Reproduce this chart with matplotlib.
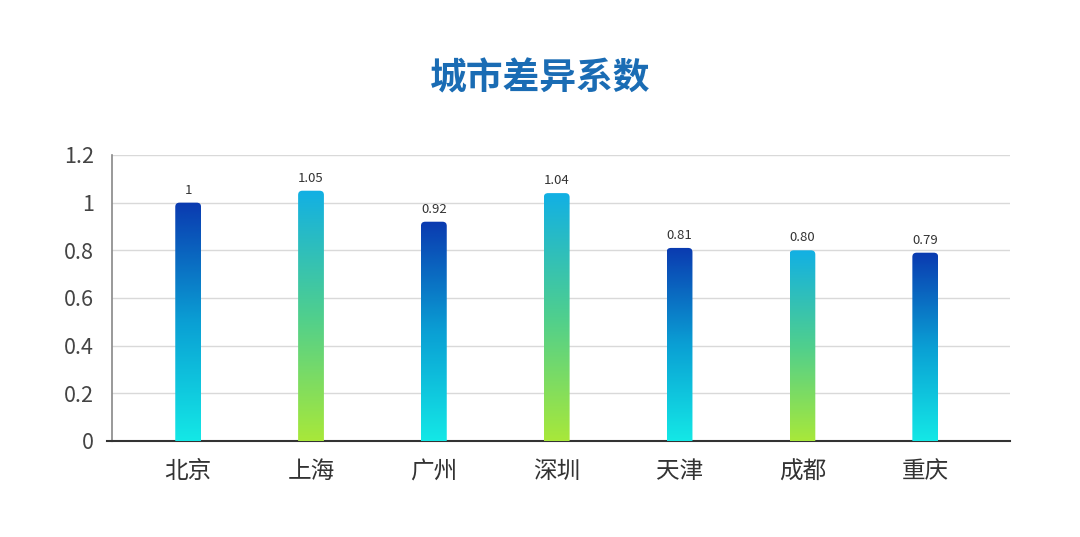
import matplotlib
matplotlib.use("Agg")
import matplotlib.pyplot as plt
import numpy as np
from matplotlib.colors import LinearSegmentedColormap
from matplotlib.patches import FancyBboxPatch

plt.rcParams["font.family"] = ["Noto Sans CJK SC", "DejaVu Sans"]

cities = ["北京", "上海", "广州", "深圳", "天津", "成都", "重庆"]
values = [1.00, 1.05, 0.92, 1.04, 0.81, 0.80, 0.79]
labels = ["1", "1.05", "0.92", "1.04", "0.81", "0.80", "0.79"]
yticks = [0, 0.2, 0.4, 0.6, 0.8, 1.0, 1.2]
ytick_labels = ["0", "0.2", "0.4", "0.6", "0.8", "1", "1.2"]

blue_cmap = LinearSegmentedColormap.from_list("blue", ["#14e8e6", "#0a9fd4", "#0a3ab0"])
green_cmap = LinearSegmentedColormap.from_list("green", ["#a8e83a", "#4fcf8e", "#12b0e4"])

fig = plt.figure(figsize=(10.8, 5.37), dpi=100)
ax = fig.add_axes([0.1037, 0.1788, 0.8315, 0.5326])

x = np.arange(len(cities))
bar_w = 0.21
bars = ax.bar(x, values, width=bar_w, color="none", edgecolor="none")

ax.set_xlim(-0.62, 6.69)
ax.set_ylim(0, 1.2)

grad = np.linspace(0, 1, 256).reshape(-1, 1)
for i, b in enumerate(bars):
    x0, w, h = b.get_x(), b.get_width(), b.get_height()
    cmap = blue_cmap if i % 2 == 0 else green_cmap
    clip = FancyBboxPatch((x0, -0.05), w, h + 0.05,
                          boxstyle="round,pad=0,rounding_size=0.035",
                          mutation_aspect=0.5,
                          facecolor="none", edgecolor="none",
                          transform=ax.transData)
    ax.add_patch(clip)
    im = ax.imshow(grad, cmap=cmap, origin="lower", aspect="auto",
                   extent=(x0, x0 + w, 0, h), zorder=3)
    im.set_clip_path(clip)
    ax.text(b.get_x() + w / 2, h + 0.025, labels[i], ha="center", va="bottom",
            fontsize=9.5, color="#333333", zorder=4)

ax.set_xlim(-0.62, 6.69)
ax.set_ylim(0, 1.2)

ax.set_yticks(yticks)
ax.set_yticklabels(ytick_labels)
ax.set_xticks(x)
ax.set_xticklabels(cities)
ax.tick_params(axis="y", length=0, pad=13, labelsize=15.5, labelcolor="#444444")
ax.tick_params(axis="x", length=0, pad=14, labelsize=17, labelcolor="#333333")

ax.grid(axis="y", color="#d9d9d9", linewidth=1)
ax.set_axisbelow(True)
for s in ["top", "right"]:
    ax.spines[s].set_visible(False)
ax.spines["left"].set_color("#888888")
ax.spines["left"].set_linewidth(1.2)
ax.spines["bottom"].set_color("#333333")
ax.spines["bottom"].set_linewidth(1.5)
ax.plot([-0.66, -0.62], [0, 0], color="#333333", linewidth=1.5, clip_on=False)

fig.text(0.5, 0.853, "城市差异系数", ha="center", va="center",
         fontsize=26.5, fontweight="bold", color="#1a6cb4")

fig.savefig("out.png", dpi=100, facecolor="white")
